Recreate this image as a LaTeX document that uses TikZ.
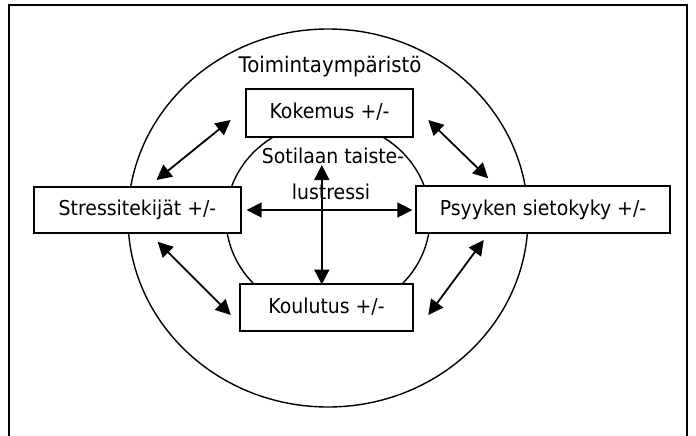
\documentclass[tikz,border=0pt]{standalone}
\usepackage{fontspec}
\setmainfont[FakeStretch=0.92]{DejaVu Sans}
\usetikzlibrary{arrows.meta,shapes.geometric}
\begin{document}
\begin{tikzpicture}[x=1pt,y=-1pt,
  lbl/.style={font=\fontsize{20.5}{24}\selectfont, inner sep=0pt},
  box/.style={draw, line width=1.8pt, fill=white, inner sep=0pt,
    font=\fontsize{20.5}{24}\selectfont, text height=15pt, text depth=4pt},
  ring/.style={draw, ellipse, line width=1.4pt, inner sep=0pt},
  dbl/.style={line width=1.8pt, {Triangle[length=15pt,width=15pt]}-{Triangle[length=15pt,width=15pt]}}]
\useasboundingbox (0,0) rectangle (696,436);
% frame
\draw[line width=2pt] (9,437) -- (9,5) -- (687,5) -- (687,437);
% rings
\node[ring, minimum width=400pt, minimum height=378pt] (outer) at (328,218) {};
\node[ring, minimum width=204pt, minimum height=192pt] (inner) at (328,218) {};
% labels
\node[lbl, anchor=base, font=\fontsize{21.5}{24}\selectfont] (env) at (330,73) {Toimintaympäristö};
\node[lbl, anchor=base] (s1) at (333,163) {Sotilaan taiste-};
\node[lbl, anchor=base] (s2) at (331,199) {lustressi};
% boxes
\node[box, minimum width=167pt, minimum height=48pt] (kok) at (329.5,113) {Kokemus +/-};
\node[box, minimum width=173pt, minimum height=47pt] (kou) at (326.5,307.5) {Koulutus +/-};
\node[box, minimum width=207pt, minimum height=46pt] (str) at (137.5,210) {Stressitekijät +/-};
\node[box, minimum width=254pt, minimum height=47pt] (psy) at (543,209.5) {Psyyken sietokyky +/-};
% arrow end points
\coordinate (a1s) at (156.5,180);
\coordinate (a1e) at (230.7,120);
\coordinate (a2s) at (428.3,120);
\coordinate (a2e) at (488.2,178.3);
\coordinate (a3s) at (157.6,241.7);
\coordinate (a3e) at (230.8,315);
\coordinate (a4s) at (483.8,240);
\coordinate (a4e) at (428.3,315);
\coordinate (hl) at (246.7,210);
\coordinate (hr) at (412.3,210);
\coordinate (vt) at (321.8,165);
\coordinate (vb) at (321.8,284.5);
\draw[dbl] (a1s) -- (a1e);
\draw[dbl] (a2s) -- (a2e);
\draw[dbl] (a3s) -- (a3e);
\draw[dbl] (a4s) -- (a4e);
\draw[dbl] (hl) -- (hr);
\draw[dbl] (vt) -- (vb);
\end{tikzpicture}
\end{document}
